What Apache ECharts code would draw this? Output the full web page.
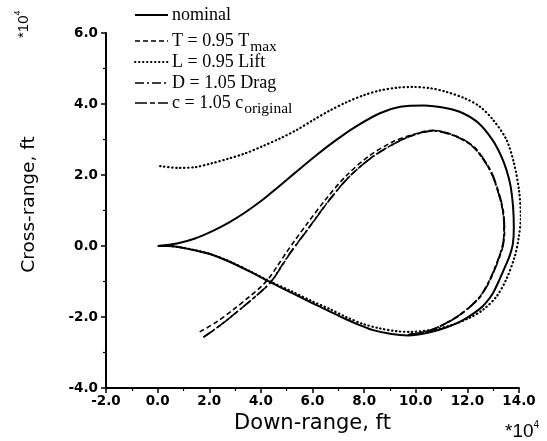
<!DOCTYPE html>
<html><head><meta charset="utf-8">
<script src="https://cdn.jsdelivr.net/npm/echarts@6/dist/echarts.min.js"></script>
<style>html,body{margin:0;padding:0;background:#fff}#c{width:547px;height:441px}</style>
</head><body><div id="c"></div>
<script>
// Data (x and y in units of 10^4 ft)
const xTicks = [-2, 0, 2, 4, 6, 8, 10, 12, 14];
const yTicks = [-4, -2, 0, 2, 4, 6];
const nominal = [
 [0,0],[0.75,0.07],[1.45,0.21],[2.1,0.41],[2.74,0.65],[3.4,0.95],[4.03,1.28],[4.65,1.65],[5.32,2.06],[6.1,2.53],
 [6.87,2.96],[7.6,3.33],[8.61,3.74],[9.4,3.92],[10.3,3.96],[11.2,3.88],[11.83,3.74],[12.45,3.45],[12.99,2.97],[13.3,2.55],
 [13.51,2.15],[13.67,1.7],[13.77,1.1],[13.8,0.5],[13.76,0.05],[13.65,-0.25],[13.5,-0.52],[13.26,-0.92],[12.99,-1.33],[12.74,-1.58],
 [12.48,-1.77],[11.83,-2.09],[11.2,-2.29],[10.55,-2.43],[9.7,-2.52],[9.06,-2.48],[8.35,-2.37],[7.8,-2.22],[7.26,-2.05],[6.6,-1.82],
 [5.97,-1.6],[5.2,-1.32],[4.42,-1.04],[3.6,-0.73],[2.74,-0.43],[2.0,-0.22],[1.45,-0.12],[0.9,-0.04],[0.4,0],[0,0]
];
const liftCase = [
 [0.1,2.25],[0.8,2.2],[1.45,2.22],[2.1,2.33],[2.74,2.46],[3.4,2.61],[4.03,2.8],[4.74,3.03],[5.39,3.27],[6.03,3.55],
 [6.68,3.82],[7.32,4.05],[8.0,4.25],[8.61,4.38],[9.3,4.46],[9.9,4.48],[10.6,4.44],[11.19,4.34],[11.9,4.16],[12.48,3.93],
 [13.0,3.55],[13.51,3.0],[13.8,2.35],[14.0,1.57],[14.07,0.8],[13.98,0.2],[13.83,-0.31],[13.5,-0.95],[13.13,-1.42],[12.6,-1.8],
 [12.09,-2.02],[11.3,-2.25],[10.55,-2.37],[9.8,-2.42],[9.26,-2.4],[8.6,-2.32],[7.97,-2.2],[7.3,-2.0],[6.68,-1.78],[5.97,-1.55],
 [5.2,-1.28],[4.42,-1.02],[3.6,-0.72],[2.74,-0.42],[2.0,-0.22],[1.45,-0.12],[0.9,-0.04],[0.4,0],[0,0]
];
const thrustCase = [
 [1.63,-2.42],[2.28,-2.14],[2.92,-1.8],[3.6,-1.4],[4.0,-1.15],[4.32,-0.9],[4.66,-0.54],[5.0,-0.17],[5.3,0.14],[5.76,0.6],
 [6.53,1.33],[7.31,1.98],[8.2,2.54],[9.1,2.93],[9.9,3.14],[10.67,3.26],[11.3,3.16],[11.9,2.97],[12.35,2.7],[12.9,2.1],
 [13.2,1.5],[13.38,0.95],[13.42,0.4],[13.36,0.0],[13.13,-0.5],[12.8,-1.05],[12.4,-1.5],[11.58,-2.0],[10.55,-2.38],[9.7,-2.5]
];
const dragCase = [
 [1.77,-2.57],[2.36,-2.27],[3.0,-1.9],[3.71,-1.47],[4.1,-1.22],[4.42,-0.98],[4.75,-0.62],[5.08,-0.25],[5.4,0.07],[5.84,0.5],
 [6.61,1.26],[7.39,1.93],[8.29,2.49],[9.19,2.89],[9.9,3.12],[10.67,3.24],[11.3,3.15],[11.9,2.96],[12.35,2.7],[12.9,2.1],
 [13.2,1.5],[13.38,0.95],[13.42,0.4],[13.36,0.0],[13.13,-0.5],[12.8,-1.05],[12.4,-1.5],[11.58,-2.0],[10.55,-2.38],[9.7,-2.5]
];
const cCase = [
 [1.8,-2.56],[2.38,-2.26],[3.02,-1.89],[3.73,-1.46],[4.12,-1.21],[4.44,-0.97],[4.77,-0.61],[5.1,-0.24],[5.42,0.08],[5.86,0.51],
 [6.63,1.27],[7.41,1.94],[8.3,2.5],[9.2,2.9],[9.92,3.13],[10.68,3.25],[11.32,3.16],[11.92,2.97],[12.37,2.71],[12.92,2.1],
 [13.22,1.5],[13.4,0.95],[13.44,0.4],[13.38,0.0],[13.15,-0.5],[12.82,-1.05],[12.42,-1.5],[11.6,-2.0],[10.56,-2.38],[9.7,-2.5]
];
const legendNames = ['nominal', 'T = 0.95 T', 'L = 0.95 Lift', 'D = 1.05 Drag', 'c = 1.05 c'];
const legendSubs = ['', 'max', '', '', 'original'];

const dashes = {dashed: [5, 3], dotted: [0.4, 3.6], dashdot: [9, 3, 2, 3], longshort: [12, 3, 5, 3]};
const chart = echarts.init(document.getElementById('c'), null, {renderer: 'canvas'});
const axisCommon = {
  axisLine: {show: true, onZero: false, lineStyle: {color: '#000', width: 2}},
  axisTick: {show: true, inside: false, length: 5, lineStyle: {color: '#000', width: 1.5}},
  minorTick: {show: true, splitNumber: 2, length: 3, lineStyle: {color: '#000', width: 1.2}},
  splitLine: {show: false},
  axisLabel: {color: '#000', fontFamily: 'DejaVu Sans', fontWeight: 'bold', fontSize: 13.5, formatter: v => v.toFixed(1)}
};
function mkLine(name, data, dash, width, z, cap) {
  return {name, type: 'line', data, symbol: 'none', smooth: 0.3, clip: false, z,
    lineStyle: {color: '#000', width, type: dash || 'solid', cap: cap || 'butt'}, emphasis: {disabled: true}, silent: true};
}
const ctx = document.createElement('canvas').getContext('2d');
const legFont = '18px "Liberation Serif"';
ctx.font = legFont;
const rows = [15, 41, 62, 83, 103];
const legDash = [null, dashes.dashed, dashes.dotted, dashes.dashdot, dashes.longshort];
const graphics = [];
rows.forEach((y, i) => {
  graphics.push({type: 'line', shape: {x1: 135, y1: y, x2: 168, y2: y},
    style: {stroke: '#000', lineWidth: i === 0 ? 2 : (i === 2 ? 2 : 1.6), lineDash: legDash[i], lineCap: i === 2 ? 'round' : 'butt'}});
  graphics.push({type: 'text', x: 172, y: y, style: {text: legendNames[i], font: legFont, fill: '#000', textVerticalAlign: 'middle', verticalAlign: 'middle'}});
  if (legendSubs[i]) {
    const w = ctx.measureText(legendNames[i]).width;
    graphics.push({type: 'text', x: 172 + w + 1, y: y + 6, style: {text: legendSubs[i], font: '15.5px "Liberation Serif"', fill: '#000', textVerticalAlign: 'middle', verticalAlign: 'middle'}});
  }
});
// exponent markers
ctx.font = '19px "Liberation Sans"';
const w10 = ctx.measureText('*10').width;
graphics.push({type: 'group', x: 505, y: 432, children: [
  {type: 'text', x: 0, y: 0, style: {text: '*10', font: '19px "Liberation Sans"', fill: '#000', textVerticalAlign: 'middle', verticalAlign: 'middle'}},
  {type: 'text', x: w10, y: -7, style: {text: '4', font: '10px "Liberation Sans"', fill: '#000', textVerticalAlign: 'middle', verticalAlign: 'middle'}}
]});
ctx.font = '15px "Liberation Sans"';
const w10b = ctx.measureText('*10').width;
graphics.push({type: 'group', x: 24, y: 38, rotation: Math.PI / 2, children: [
  {type: 'text', x: 0, y: 0, style: {text: '*10', font: '15px "Liberation Sans"', fill: '#000', textVerticalAlign: 'middle', verticalAlign: 'middle'}},
  {type: 'text', x: w10b, y: -6, style: {text: '4', font: '9px "Liberation Sans"', fill: '#000', textVerticalAlign: 'middle', verticalAlign: 'middle'}}
]});

chart.setOption({
  animation: false,
  backgroundColor: '#fff',
  grid: {left: 106, right: 28, top: 33, bottom: 53},
  xAxis: Object.assign({}, axisCommon, {type: 'value', min: xTicks[0], max: xTicks[xTicks.length - 1], interval: 2,
    name: 'Down-range, ft', nameLocation: 'middle', nameGap: 10,
    nameTextStyle: {color: '#000', fontFamily: 'DejaVu Sans', fontSize: 21},
    axisLabel: Object.assign({}, axisCommon.axisLabel, {margin: 6})}),
  yAxis: Object.assign({}, axisCommon, {type: 'value', min: yTicks[0], max: yTicks[yTicks.length - 1], interval: 2,
    name: 'Cross-range, ft', nameLocation: 'middle', nameGap: 67, nameRotate: 90,
    nameTextStyle: {color: '#000', fontFamily: 'DejaVu Sans', fontSize: 18.5, padding: [0, 0, 0, 12]},
    axisLabel: Object.assign({}, axisCommon.axisLabel, {margin: 8})}),
  series: [
    mkLine('L = 0.95 Lift', liftCase, dashes.dotted, 2.2, 2, 'round'),
    mkLine('T = 0.95 Tmax', thrustCase, dashes.dashed, 1.6, 3),
    mkLine('D = 1.05 Drag', dragCase, dashes.dashdot, 1.6, 3),
    mkLine('c = 1.05 c_original', cCase, dashes.longshort, 1.6, 3),
    mkLine('nominal', nominal, null, 2, 4)
  ],
  graphic: graphics
});
</script></body></html>
